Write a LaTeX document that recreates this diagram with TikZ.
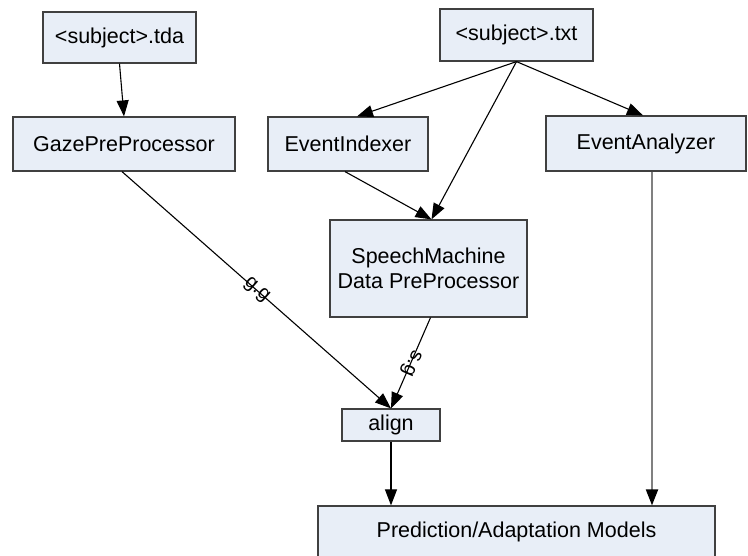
\documentclass[tikz,border=0pt]{standalone}
\usepackage{fontspec}
\setmainfont{Liberation Sans}
\usepackage{xcolor}
\usetikzlibrary{arrows.meta, positioning}
\definecolor{boxfill}{RGB}{232,238,247}
\definecolor{boxline}{RGB}{64,64,64}

\begin{document}
\begin{tikzpicture}[x=1pt, y=-1pt,
        % Define a style for the process boxes
        proc_box/.style={draw=boxline, line width=1.2pt, fill=boxfill, inner sep=0pt, align=center,
            font=\fontsize{21.5}{25}\selectfont},
        flow/.style={line width=1.1pt, -{Triangle[length=16pt, width=12pt, black]}},
        edge_lbl/.style={sloped, allow upside down, inner sep=1pt, font=\fontsize{20}{22}\selectfont}
    ]
        \useasboundingbox (0,0) rectangle (748,555);

        % --- Input files at fixed positions ---
        \node (tda) [proc_box, minimum width=153pt, minimum height=51pt] at (119.5, 37.5) {<subject>.tda};
        \node (txt) [proc_box, minimum width=153pt, minimum height=52pt] at (516.5, 35) {<subject>.txt};

        % --- Processing stages ---
        \node (gaze)  [proc_box, minimum width=222pt, minimum height=54pt] at (124, 144) {GazePreProcessor};
        \node (idx)   [proc_box, minimum width=160pt, minimum height=54pt] at (348, 144) {EventIndexer};
        \node (ana)   [proc_box, minimum width=200pt, minimum height=55pt] at (646, 143.5) {EventAnalyzer};
        \node (sm)    [proc_box, minimum width=197pt, minimum height=97pt] at (428.5, 268.5) {SpeechMachine\\Data PreProcessor};
        \node (align) [proc_box, minimum width=98pt, minimum height=32pt] at (391, 425) {align};
        \node (pred)  [proc_box, minimum width=397pt, minimum height=52pt] at (516.5, 532) {Prediction/Adaptation Models};

        % --- Arrows between the stages ---
        \draw[flow] (tda.south) -- (gaze.north);
        \draw[flow] (txt.south) -- ([xshift=9pt]idx.north);
        \draw[flow] (txt.south) -- ([xshift=3pt]sm.north);
        \draw[flow] (txt.south) -- ([xshift=-3pt]ana.north);
        \draw[flow] ([xshift=-3pt]idx.south) -- ([xshift=3pt]sm.north);

        \draw[flow] ([xshift=-2pt]gaze.south) -- (align.north)
            node[edge_lbl, pos=0.5] {g.g};
        \draw[flow] ([xshift=2pt]sm.south) -- (align.north)
            node[edge_lbl, pos=0.5] {s.g};

        \draw[flow] (align.south) -- (align.south |- pred.north);
        \draw[flow, draw=black!50, line width=2pt] ([xshift=6pt]ana.south) -- ([xshift=6pt]ana.south |- pred.north);

    \end{tikzpicture}
\end{document}
